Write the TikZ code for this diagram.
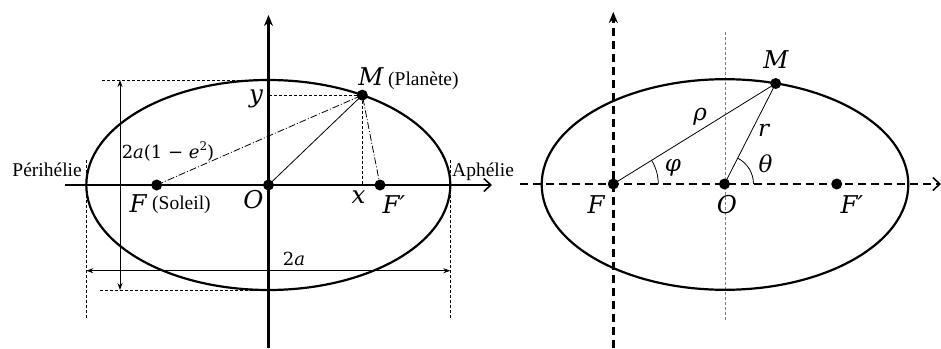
\documentclass[tikz,border=0pt]{standalone}
\usepackage{fontspec}
\setmainfont{Liberation Serif}
\newfontfamily\mathlike{DejaVu Serif}
\usetikzlibrary{arrows.meta,calc}
\begin{document}
\begin{tikzpicture}[x=1pt,y=-1pt,
  axisline/.style={line width=2.2pt},
  orbit/.style={line width=2.2pt},
  thinline/.style={line width=0.8pt},
  guide/.style={line width=0.8pt, dash pattern=on 3pt off 2pt},
  dashdot/.style={line width=0.8pt, dash pattern=on 7pt off 2pt on 1pt off 2pt},
  thickdash/.style={line width=2.4pt, dash pattern=on 8pt off 5pt},
  fineguide/.style={line width=0.7pt, gray, dash pattern=on 3pt off 2pt},
  pt/.style={circle, fill=black, inner sep=0pt, minimum size=11pt},
  mlab/.style={inner sep=0pt, font=\fontsize{24.5}{26}\selectfont\mathlike\itshape},
  glab/.style={inner sep=0pt, font=\fontsize{23}{25}\selectfont\mathlike\itshape},
  slab/.style={inner sep=0pt, font=\fontsize{18}{20}\selectfont\mathlike},
  tlab/.style={inner sep=0pt, font=\fontsize{19.5}{21}\selectfont},
  upstealth/.style={-{Stealth[length=11pt,width=9pt]}},
  barb/.style={-{Straight Barb[length=7pt,width=13pt,line width=1.6pt]}}
]
\useasboundingbox (0,0) rectangle (941,348);

% ---------------- Left diagram ----------------
\coordinate (O1) at (268.5,185);
\coordinate (F1) at (156.7,185);
\coordinate (Fp1) at (380,185);
\coordinate (M1) at (362.3,95.1);
\coordinate (Yt) at (268.5,95.1);
\coordinate (Xt) at (362.3,185);
\coordinate (AxB) at (268.5,348);
\coordinate (AxT) at (268.5,15);
\coordinate (AxL) at (65,185);
\coordinate (AxR) at (492,185);

% guides
\draw[guide] (102,80) -- (283,80);
\draw[guide] (100,290) -- (267,290);
\draw[guide] (86.3,160) -- (86.3,318);
\draw[guide] (450.3,160) -- (450.3,318);
\draw[guide] (Yt) -- (M1) -- (Xt);

% dimension arrows
\draw[thinline,{Stealth[length=7pt,width=5pt]}-{Stealth[length=7pt,width=5pt]}] (120,80) -- (120,290);
\draw[thinline,{Stealth[length=7pt,width=5pt]}-{Stealth[length=7pt,width=5pt]}] (86.3,270.7) -- (450.3,270.7);

% ellipse and axes
\draw[orbit] (268.3,185) ellipse[x radius=182, y radius=105];
\draw[axisline,upstealth] (AxB) -- (AxT);
\draw[axisline,barb] (AxL) -- (AxR);

% segments
\draw[dashdot] (F1) -- (M1) -- (Fp1);
\draw[thinline] (O1) -- (M1);

% points
\node[pt] (o1) at (O1) {};
\node[pt] (f1) at (F1) {};
\node[pt] (fp1) at (Fp1) {};
\node[pt] (m1) at (M1) {};

% labels
\node[mlab, anchor=base] (lM1) at (371,85) {M};
\node[tlab, anchor=base west] (lPl) at (388,85) {(Planète)};
\node[mlab, anchor=base] (lF1) at (138,212) {F};
\node[tlab, anchor=base west] (lSo) at (152,209) {(Soleil)};
\node[mlab, anchor=base] (lO1) at (253.5,208) {O};
\node[mlab, anchor=base] (lx) at (358.5,203) {x};
\node[mlab, anchor=base] (ly) at (256,102) {y};
\node[mlab, anchor=base] (lFp1) at (394,213) {F′};
\node[slab] (ldim) at (168,151) {2\textit{a}(1 − \textit{e}\raisebox{0.45em}{\fontsize{12}{13}\selectfont 2})};
\node[slab] (l2a) at (294,259) {2\textit{a}};
\node[tlab, anchor=base east] (lPer) at (82,176) {Périhélie};
\node[tlab, anchor=base west] (lAph) at (452,176) {Aphélie};

% ---------------- Right diagram ----------------
\coordinate (O2) at (724.5,184);
\coordinate (F2) at (613.3,184);
\coordinate (Fp2) at (836.7,184);
\coordinate (M2) at (775.7,83.5);
\coordinate (HL) at (520,184);
\coordinate (HR) at (941,184);
\coordinate (VB) at (613.3,348);
\coordinate (VT) at (613.3,12);
\coordinate (GT) at (725,32);
\coordinate (GB) at (725,322);

\draw[fineguide] (GT) -- (GB);
\draw[orbit] (725,184.5) ellipse[x radius=183.3, y radius=105.3];
\draw[thickdash,barb] (HL) -- (HR);
\draw[thickdash,upstealth] (VB) -- (VT);

\draw[thinline] (F2) -- (M2);
\draw[thinline] (O2) -- (M2);
\draw[thinline] ($(F2)+(45,0)$) arc[start angle=0, end angle=-31.7, radius=45];
\draw[thinline] ($(O2)+(29,0)$) arc[start angle=0, end angle=-62.7, radius=29];

\node[pt] (o2) at (O2) {};
\node[pt] (f2) at (F2) {};
\node[pt] (fp2) at (Fp2) {};
\node[pt] (m2) at (M2) {};

\node[mlab, anchor=base] (lM2) at (776,68) {M};
\node[glab] (lrho) at (700,117) {ρ};
\node[glab] (lr) at (763.5,130) {r};
\node[glab] (lphi) at (673,168) {φ};
\node[glab] (lth) at (765.5,164) {θ};
\node[mlab, anchor=base] (lF2) at (596,213) {F};
\node[mlab, anchor=base] (lO2) at (727,213) {O};
\node[mlab, anchor=base] (lFp2) at (852,213) {F′};
\end{tikzpicture}
\end{document}
